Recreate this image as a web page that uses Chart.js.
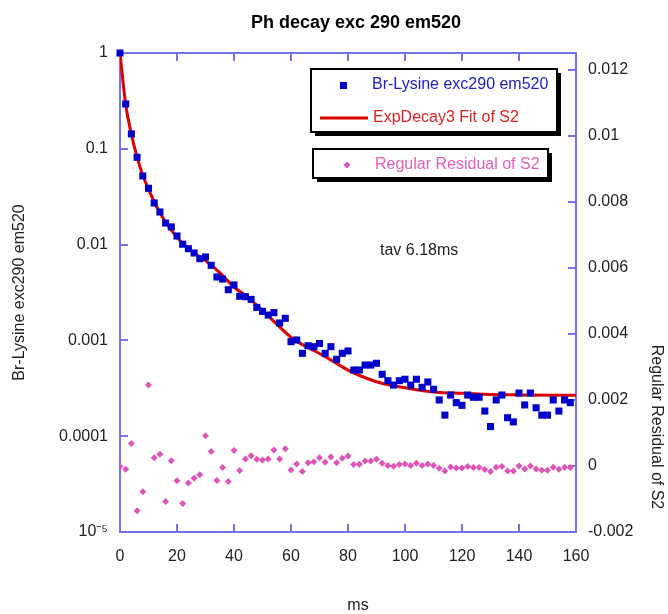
<!DOCTYPE html>
<html>
<head>
<meta charset="utf-8">
<title>Ph decay exc 290 em520</title>
<script src="https://cdn.jsdelivr.net/npm/chart.js@4.4.1/dist/chart.umd.min.js"></script>
<style>
    html, body { margin: 0; padding: 0; background: #fff; }
    #wrap { width: 668px; height: 614px; }
</style>
</head>
<body>
<div id="wrap"><canvas id="decayChart" width="668" height="614"></canvas></div>
<script>
// Time axis (ms) shared by the measured data and the residuals
const timeMs = [
    0, 2, 4, 6, 8, 10, 12, 14, 16, 18, 20, 22, 24, 26, 28, 30, 32, 34, 36, 38,
    40, 42, 44, 46, 48, 50, 52, 54, 56, 58, 60, 62, 64, 66, 68, 70, 72, 74, 76, 78,
    80, 82, 84, 86, 88, 90, 92, 94, 96, 98, 100, 102, 104, 106, 108, 110, 112, 114, 116, 118,
    120, 122, 124, 126, 128, 130, 132, 134, 136, 138, 140, 142, 144, 146, 148, 150, 152, 154, 156, 158
];

// Br-Lysine exc290 em520 (left, log axis)
const brLysine = [
    1.0, 0.294, 0.143, 0.0815, 0.052, 0.0387, 0.0272, 0.0219, 0.0168, 0.0153,
    0.0123, 0.0101, 0.00906, 0.00817, 0.00713, 0.00743, 0.00608, 0.00459, 0.00437, 0.00338,
    0.00379, 0.00289, 0.00286, 0.00268, 0.00221, 0.00201, 0.00184, 0.00195, 0.00152, 0.0017,
    0.00097, 0.00101, 0.000733, 0.00088, 0.00086, 0.00093, 0.000733, 0.00086, 0.000635, 0.000733,
    0.000776, 0.000491, 0.000491, 0.000553, 0.000553, 0.000577, 0.000443, 0.00038, 0.000342, 0.00038,
    0.000393, 0.000342, 0.000393, 0.000324, 0.000368, 0.000309, 0.000239, 0.000166, 0.000269, 0.000224,
    0.00021, 0.000269, 0.000255, 0.000255, 0.000183, 0.000126, 0.000239, 0.000269, 0.000156, 0.000141,
    0.000282, 0.000212, 0.000282, 0.000198, 0.000166, 0.000166, 0.000239, 0.000183, 0.000239, 0.000224
];

// Regular Residual of S2 (right axis)
const residual = [
    -0.00002, -0.0001, 0.00068, -0.00136, -0.00078, 0.00245, 0.00025, 0.00035, -0.00108, 0.00016,
    -0.00045, -0.00114, -0.00052, -0.00037, -0.00027, 0.00091, 0.00044, -0.00044, -0.00005, -0.00047,
    0.00047, -0.00014, 0.00021, 0.00031, 0.0002, 0.00018, 0.00021, 0.00048, 0.00021, 0.00052,
    -0.00012, 0.00006, -0.00017, 0.0001, 0.00013, 0.00025, 0.00011, 0.00027, 0.0001, 0.00023,
    0.0003, 0.00004, 0.00005, 0.00015, 0.00015, 0.0002, 0.00008, 0.00001, -0.00001, 0.00004,
    0.00006, 0.00001, 0.00008, 0.00001, 0.00006, 0.00001, -0.00007, -0.00015, -0.00003, -0.00006,
    -0.00006, -0.00002, -0.00005, -0.00005, -0.00011, -0.00017, -0.00004, -0.00002, -0.00015, -0.00015,
    0, -0.00009, 0, -0.00009, -0.00013, -0.00013, -0.00004, -0.0001, -0.00004, -0.00005
];

// ExpDecay3 fit
const fitTime = [0, 2, 4, 6, 8, 10, 12, 14, 16, 18, 20, 22, 25, 30, 35, 40, 45, 50, 55, 60,
    65, 70, 75, 80, 85, 90, 95, 100, 110, 120, 130, 140, 160];
const fitValue = [1.0, 0.29, 0.142, 0.082, 0.053, 0.038, 0.028, 0.0215, 0.0172, 0.0142, 0.0119, 0.0103,
    0.0086, 0.0068, 0.0051, 0.0036, 0.0028, 0.00205, 0.00148, 0.00108,
    0.00087, 0.00073, 0.0006, 0.00049, 0.00042, 0.00037, 0.00034, 0.00032, 0.00029, 0.00028,
    0.000273, 0.00027, 0.000267];

// Tick labels
const xTicks = [0, 20, 40, 60, 80, 100, 120, 140, 160];
const leftTicks = [1e-5, 1e-4, 1e-3, 0.01, 0.1, 1];
const leftTickLabels = ['10\u207B\u2075', '0.0001', '0.001', '0.01', '0.1', '1'];
const rightTicks = [-0.002, 0, 0.002, 0.004, 0.006, 0.008, 0.01, 0.012];
const rightTickLabels = ['-0.002', '0', '0.002', '0.004', '0.006', '0.008', '0.01', '0.012'];

const axisBlue = '#7272e6';
const fontFamily = '"Liberation Sans", Arial, sans-serif';
const tickFont = { family: fontFamily, size: 16 };

const blue = '#0000cc';
const red = '#dd0000';
const pink = '#dd55b8';

function innerGrid() {
    return {
        drawOnChartArea: false,
        drawTicks: true,
        tickLength: -8,
        lineWidth: 2,
        color: axisBlue
    };
}

function border() {
    return { display: true, color: axisBlue, width: 2 };
}

// Title, axis titles off-centre, note and the boxed legends
const decorPlugin = {
    id: 'decor',
    afterDraw(chart) {
        const ctx = chart.ctx;
        ctx.save();

        ctx.fillStyle = '#000';
        ctx.font = 'bold 18px ' + fontFamily;
        ctx.textAlign = 'center';
        ctx.textBaseline = 'alphabetic';
        ctx.fillText('Ph decay exc 290 em520', 356, 28);

        ctx.font = '16px ' + fontFamily;
        ctx.fillStyle = '#222';
        ctx.textBaseline = 'middle';
        ctx.fillText('ms', 358, 606);

        // right axis title, rotated
        ctx.save();
        ctx.translate(656, 427);
        ctx.rotate(Math.PI / 2);
        ctx.textAlign = 'center';
        ctx.fillText('Regular Residual of S2', 0, 0);
        ctx.restore();

        ctx.textAlign = 'left';
        ctx.fillText('tav 6.18ms', 380, 251);

        // legend boxes with drop shadow
        const drawBox = (l, t, r, b) => {
            ctx.fillStyle = '#000';
            ctx.fillRect(r, t + 4, 4, b - t);
            ctx.fillRect(l + 4, b, r - l, 4);
            ctx.fillStyle = '#fff';
            ctx.fillRect(l, t, r - l, b - t);
            ctx.strokeStyle = '#000';
            ctx.lineWidth = 2;
            ctx.strokeRect(l, t, r - l, b - t);
        };
        drawBox(311, 69, 557, 132);
        drawBox(313, 149, 548, 178);

        ctx.fillStyle = blue;
        ctx.fillRect(340, 82, 7, 7);
        ctx.fillStyle = '#2020c0';
        ctx.fillText('Br-Lysine exc290 em520', 372, 85);

        ctx.strokeStyle = red;
        ctx.lineWidth = 3;
        ctx.beginPath();
        ctx.moveTo(320, 118);
        ctx.lineTo(368, 118);
        ctx.stroke();
        ctx.fillStyle = '#e02020';
        ctx.fillText('ExpDecay3 Fit of S2', 373, 118);

        ctx.fillStyle = pink;
        ctx.beginPath();
        ctx.moveTo(343.5, 165);
        ctx.lineTo(347, 161.5);
        ctx.lineTo(350.5, 165);
        ctx.lineTo(347, 168.5);
        ctx.closePath();
        ctx.fill();
        ctx.fillStyle = '#e060b8';
        ctx.fillText('Regular Residual of S2', 375, 165);

        ctx.restore();
    }
};

const ctx = document.getElementById('decayChart');
new Chart(ctx, {
    type: 'scatter',
    data: {
        datasets: [
            {
                label: 'Br-Lysine exc290 em520',
                data: timeMs.map((t, i) => ({ x: t, y: brLysine[i] })),
                yAxisID: 'y',
                pointStyle: 'rect',
                pointRadius: 5,
                pointBorderWidth: 0,
                backgroundColor: blue,
                borderColor: blue,
                clip: false
            },
            {
                label: 'ExpDecay3 Fit of S2',
                data: fitTime.map((t, i) => ({ x: t, y: fitValue[i] })),
                yAxisID: 'y',
                showLine: true,
                pointRadius: 0,
                borderColor: red,
                borderWidth: 3,
                cubicInterpolationMode: 'monotone'
            },
            {
                label: 'Regular Residual of S2',
                data: timeMs.map((t, i) => ({ x: t, y: residual[i] })),
                yAxisID: 'y2',
                pointStyle: 'rectRot',
                pointRadius: 3.5,
                pointBorderWidth: 0,
                backgroundColor: pink,
                borderColor: pink
            }
        ]
    },
    options: {
        responsive: false,
        animation: false,
        devicePixelRatio: 1,
        events: [],
        layout: { padding: 0 },
        plugins: {
            legend: { display: false },
            title: { display: false },
            tooltip: { enabled: false }
        },
        scales: {
            x: {
                type: 'linear',
                position: 'bottom',
                min: 0,
                max: 160,
                afterBuildTicks: s => { s.ticks = xTicks.map(v => ({ value: v })); },
                afterFit: s => { s.height = 82; },
                grid: innerGrid(),
                border: border(),
                ticks: {
                    padding: 23,
                    color: '#222',
                    font: tickFont,
                    maxRotation: 0,
                    autoSkip: false,
                    callback: v => String(v)
                }
            },
            x2: {
                type: 'linear',
                position: 'top',
                min: 0,
                max: 160,
                afterBuildTicks: s => { s.ticks = xTicks.map(v => ({ value: v })); },
                afterFit: s => { s.height = 53; },
                grid: innerGrid(),
                border: border(),
                ticks: { display: false }
            },
            y: {
                type: 'logarithmic',
                position: 'left',
                min: 1e-5,
                max: 1,
                afterBuildTicks: s => { s.ticks = leftTicks.map(v => ({ value: v })); },
                afterFit: s => { s.width = 120; },
                grid: innerGrid(),
                border: border(),
                ticks: {
                    padding: 20,
                    color: '#222',
                    font: tickFont,
                    autoSkip: false,
                    callback: (v, i) => leftTickLabels[i]
                },
                title: {
                    display: true,
                    text: 'Br-Lysine exc290 em520',
                    color: '#222',
                    font: tickFont,
                    padding: { top: 10, bottom: 0 }
                }
            },
            y2: {
                type: 'linear',
                position: 'right',
                min: -0.002,
                max: 0.0125,
                afterBuildTicks: s => { s.ticks = rightTicks.map(v => ({ value: v })); },
                afterFit: s => { s.width = 92; },
                grid: innerGrid(),
                border: border(),
                ticks: {
                    padding: 20,
                    color: '#222',
                    font: tickFont,
                    autoSkip: false,
                    callback: (v, i) => rightTickLabels[i]
                }
            }
        }
    },
    plugins: [decorPlugin]
});
</script>
</body>
</html>
